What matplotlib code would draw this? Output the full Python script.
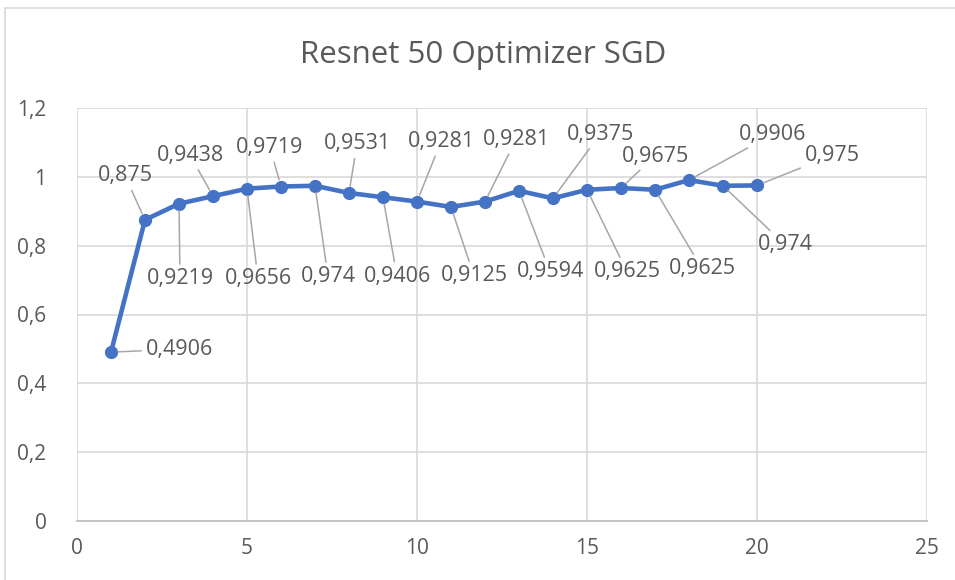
import matplotlib
matplotlib.use("Agg")
import matplotlib.pyplot as plt
from matplotlib.patches import Rectangle

plt.rcParams['font.family'] = ['Open Sans', 'DejaVu Sans']

epochs = list(range(1, 21))
accuracy = [0.4906, 0.875, 0.9219, 0.9438, 0.9656, 0.9719, 0.974, 0.9531, 0.9406, 0.9281,
            0.9125, 0.9281, 0.9594, 0.9375, 0.9625, 0.9675, 0.9625, 0.9906, 0.974, 0.975]
# label offsets in pixels (dx, dy) from each point
label_offsets = [(68, 3), (-20, 44), (1, -75), (-23, 41), (11, -90), (-11, 39), (13, -91), (8, 49),
                 (14, -79), (24, 60), (23, -69), (31, 62), (31, -81), (47, 64), (40, -82), (34, 32),
                 (47, -79), (84, 46), (62, -59), (75, 30)]
title = "Resnet 50 Optimizer SGD"
xticks = [0, 5, 10, 15, 20, 25]
yticks = [0, 0.2, 0.4, 0.6, 0.8, 1.0, 1.2]

W, H = 955, 580
fig = plt.figure(figsize=(W / 100, H / 100), dpi=100)
ax = fig.add_axes([77 / W, 1 - 521 / H, (927 - 77) / W, (521 - 108) / H])

text_c = '#595959'
grid_c = '#D9D9D9'
blue = '#4472C4'

ax.plot(epochs, accuracy, color=blue, lw=3.3, marker='o', markersize=8.5,
        markerfacecolor=blue, markeredgecolor=blue, zorder=3, clip_on=False)

def fmt(v):
    s = ('%.4f' % v).rstrip('0').rstrip('.')
    return s.replace('.', ',')

for x, y, (dx, dy) in zip(epochs, accuracy, label_offsets):
    ax.annotate(fmt(y), xy=(x, y), xytext=(dx, dy), textcoords='offset pixels',
                ha='center', va='center', fontsize=15.5, color=text_c,
                arrowprops=dict(arrowstyle='-', color='#A6A6A6', lw=1.1,
                                shrinkA=1, shrinkB=5),
                zorder=4)

ax.set_xlim(0, 25)
ax.set_ylim(0, 1.2)
ax.set_xticks(xticks)
ax.set_yticks(yticks)
ax.set_xticklabels([str(t) for t in xticks])
ax.set_yticklabels([('%g' % t).replace('.', ',') for t in yticks])
ax.tick_params(axis='both', length=0, labelsize=15, colors=text_c)
ax.tick_params(axis='y', pad=22)
ax.tick_params(axis='x', pad=12)
ax.grid(True, color=grid_c, lw=1.2)
ax.set_axisbelow(True)
for s in ['top', 'right', 'left']:
    ax.spines[s].set_visible(False)
ax.spines['bottom'].set_color('#BFBFBF')
ax.spines['bottom'].set_linewidth(1.3)

fig.text(483 / W, 1 - 55 / H, title, ha='center', va='center', fontsize=22.5, color=text_c)

fig.patches.append(Rectangle((5 / W, -0.1), 1.2, 1 - 8 / H + 0.1, transform=fig.transFigure,
                             fill=False, edgecolor='#D9D9D9', lw=1.2))

fig.savefig('out.png', dpi=100)
